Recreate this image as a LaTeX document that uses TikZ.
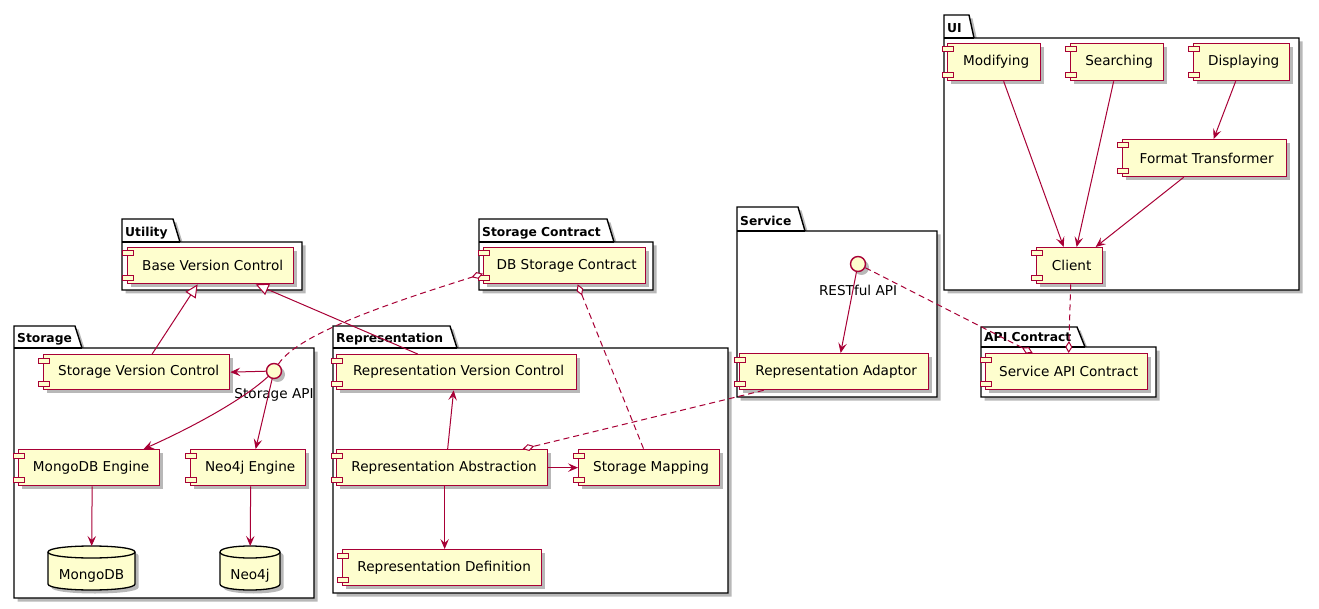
\documentclass[tikz,border=0pt]{standalone}
\usepackage{fontspec}
\setmainfont{DejaVu Sans}
\usetikzlibrary{arrows.meta,shadows,calc}
\definecolor{pred}{HTML}{A80036}
\definecolor{pfill}{HTML}{FEFECE}
\tikzset{
  shad/.style={drop shadow={shadow xshift=3.5pt,shadow yshift=-3.5pt,fill=black,opacity=0.28}},
  comp/.style={draw=pred, fill=pfill, line width=1.3pt, inner sep=0pt, anchor=north west,
    font=\fontsize{13.6}{16}\selectfont, shad, execute at begin node=\hspace*{4pt}},
  icon/.style={draw=pred, fill=pfill, line width=1pt},
  pkg/.style={draw=black, fill=white, line width=1.4pt, line join=miter, shad},
  pkgline/.style={draw=black, line width=1.4pt},
  pkglabel/.style={anchor=base west, inner sep=0pt, font=\bfseries\fontsize{12.3}{14}\selectfont},
  iface/.style={circle, draw=pred, fill=pfill, line width=1.4pt, minimum size=15pt, inner sep=0pt, shad},
  ilabel/.style={inner sep=0pt, font=\fontsize{13.6}{16}\selectfont},
  dbs/.style={draw=black, fill=pfill, line width=1.3pt, shad},
  dbline/.style={draw=black, line width=1.3pt},
  dbtext/.style={inner sep=0pt, font=\fontsize{13.6}{16}\selectfont},
  arr/.style={draw=pred, line width=1pt, -{Stealth[length=10pt,width=8.5pt,inset=4pt]}},
  gen/.style={draw=pred, line width=1pt, -{Triangle[length=13pt,width=12pt,fill=white]}},
  agg/.style={draw=pred, line width=1pt, dash pattern=on 6pt off 4pt, -{Diamond[length=12pt,width=7pt,fill=white]}},
  aggr/.style={draw=pred, line width=1pt, dash pattern=on 6pt off 4pt, {Diamond[length=12pt,width=7pt,fill=white]}-},
}
\newcommand\mkcomp[6]{%
  \node[comp, minimum width={#4-#2}, minimum height={#5-#3}] (#1) at (#2,#3) {#6};
  \draw[icon] ([xshift=-5pt,yshift=-4pt]#1.north west) rectangle ++(11pt,-5pt);
  \draw[icon] ([xshift=-5pt,yshift=4pt]#1.south west) rectangle ++(11pt,5pt);
}
\newcommand\mkpkg[9]{%
  \path[pkg] (#2,#5) -- (#2,#3) -- (#4,#3) -- ({#4+#9},#5) -- (#6,#5) -- (#6,#7) -- (#2,#7) -- cycle;
  \draw[pkgline] (#2,#5) -- ({#4+#9},#5);
  \node[pkglabel] (#1) at ({#2+3},{#5-5.5}) {#8};
}
\newcommand\mkdb[6]{%
  \path[dbs] (#2,{#3+6}) -- (#2,{#5-6}) .. controls (#2,{#5+2}) and (#4,{#5+2}) .. (#4,{#5-6})
    -- (#4,{#3+6}) .. controls (#4,{#3-2}) and (#2,{#3-2}) .. (#2,{#3+6}) -- cycle;
  \draw[dbline] (#2,{#3+6}) .. controls (#2,{#3+14}) and (#4,{#3+14}) .. (#4,{#3+6});
  \node[inner sep=0pt, minimum width={#4-#2}, minimum height={#5-#3}, anchor=north west] (#1) at (#2,#3) {};
  \node[dbtext] (#1-t) at ({(#2+#4)/2},{#5-14}) {#6};
}
\begin{document}
\begin{tikzpicture}[x=1pt,y=-1pt]
\fill[white] (0,0) rectangle (1319,609);
\useasboundingbox (0,0) rectangle (1319,609);

% packages
\mkpkg{pUI}{944}{15}{969}{38}{1299}{290}{UI}{5}
\mkpkg{pService}{737}{207}{798}{231}{937}{397}{Service}{7}
\mkpkg{pAPI}{981}{327}{1077}{347}{1156}{397}{API Contract}{8}
\mkpkg{pUtil}{122}{219}{173}{242}{302}{290}{Utility}{7}
\mkpkg{pSC}{479}{219}{607}{242}{653}{290}{Storage Contract}{7}
\mkpkg{pStorage}{14}{326}{75}{348}{314}{598}{Storage}{7}
\mkpkg{pRep}{333}{326}{450}{348}{728}{593}{Representation}{7}

% databases
\mkdb{mongodb}{48}{546}{135}{590}{MongoDB}
\mkdb{neo}{220}{546}{280}{590}{Neo4j}

% components
\mkcomp{modifying}{947}{43}{1040}{80}{Modifying}
\mkcomp{searching}{1070}{43}{1163}{80}{Searching}
\mkcomp{displaying}{1193}{43}{1289}{80}{Displaying}
\mkcomp{formattrans}{1122}{139}{1286}{176}{Format Transformer}
\mkcomp{client}{1036}{247}{1102}{283}{Client}
\mkcomp{basevc}{127}{247}{293}{283}{Base Version Control}
\mkcomp{dbsc}{483}{247}{645}{283}{DB Storage Contract}
\mkcomp{storagevc}{43}{354}{229}{389}{Storage Version Control}
\mkcomp{mongoeng}{18}{449}{159}{485}{MongoDB Engine}
\mkcomp{neoeng}{190}{449}{305}{485}{Neo4j Engine}
\mkcomp{repvc}{336}{354}{576}{389}{Representation Version Control}
\mkcomp{repabs}{336}{449}{547}{485}{Representation Abstraction}
\mkcomp{stormap}{578}{449}{719}{485}{Storage Mapping}
\mkcomp{repdef}{342}{549}{541}{585}{Representation Definition}
\mkcomp{repadapt}{739}{353}{928}{389}{Representation Adaptor}
\mkcomp{sapic}{985}{353}{1147}{389}{Service API Contract}

% interfaces
\node[iface] (storapi) at (274,371) {};
\node[ilabel] (storapilbl) at (274,395) {Storage API};
\node[iface] (rest) at (858,264) {};
\node[ilabel] (restlbl) at (858,290) {RESTful API};

% connectors
\draw[arr] ([xshift=9.5pt]modifying.south) -- ([xshift=-6pt]client.north);
\draw[arr] ([xshift=-3.5pt]searching.south) -- ([xshift=7pt]client.north);
\draw[arr] ([xshift=-6pt]displaying.south) -- ([xshift=9pt]formattrans.north);
\draw[arr] ([xshift=-21pt]formattrans.south) -- ([xshift=26pt]client.north);
\draw[agg] ([xshift=1pt]client.south) -- ([xshift=2pt]sapic.north);
\draw[agg] (rest) -- ([xshift=-34pt]sapic.north);
\draw[arr] (rest) -- ([xshift=6.5pt]repadapt.north);
\draw[agg] ([xshift=-70.5pt]repadapt.south) -- ([xshift=80.5pt]repabs.north);
\draw[arr] ([xshift=5.5pt]repabs.north) -- ([xshift=-3pt]repvc.south);
\draw[arr] (repabs.east) -- (stormap.west);
\draw[arr] ([xshift=2.5pt]repabs.south) -- ([xshift=2.5pt]repdef.north);
\draw[aggr] ([xshift=13pt]dbsc.south) -- ([xshift=-5.5pt]stormap.north);
\draw[agg] (storapi) .. controls (299,332) and (403,299) .. ([yshift=-8pt]dbsc.west);
\draw[gen] ([xshift=15.5pt]storagevc.north) -- ([xshift=-13pt]basevc.south);
\draw[gen] ([xshift=-39pt]repvc.north) -- ([xshift=45pt]basevc.south);
\draw[arr] (storapi) -- (storagevc.east);
\draw[arr] (storapi) .. controls (244,399) and (193,427) .. ([xshift=54.5pt]mongoeng.north);
\draw[arr] (storapi) -- ([xshift=7.5pt]neoeng.north);
\draw[arr] ([xshift=3pt]mongoeng.south) -- (mongodb.north);
\draw[arr] ([xshift=2.5pt]neoeng.south) -- (neo.north);
\end{tikzpicture}
\end{document}
